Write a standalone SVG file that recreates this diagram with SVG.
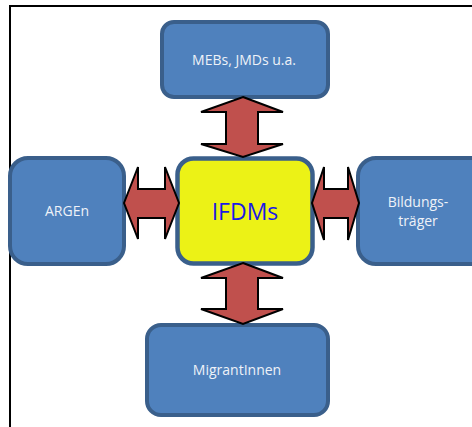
<svg xmlns="http://www.w3.org/2000/svg" width="472" height="427" viewBox="0 0 472 427">
<style>
.box{fill:#4f81bd;stroke:#3a5f8b;stroke-width:4}
.core{fill:#ecf216;stroke:#3a5f8b;stroke-width:4.5}
.lbl{font-family:"Open Sans","Liberation Sans",sans-serif;font-size:14px;fill:#eef2f8;text-anchor:middle}
.big{font-family:"Open Sans","Liberation Sans",sans-serif;font-size:23px;fill:#1a1ae6;text-anchor:middle}
.arr{fill:#c0504d;stroke:#000;stroke-width:2;stroke-linejoin:miter}
</style>
<rect width="472" height="427" fill="#fff"/>
<path d="M10,427 V6 H472" fill="none" stroke="#000" stroke-width="2"/>
<g id="node-mebs">
<rect class="box" x="162" y="22" width="166" height="75" rx="12"/>
<text class="lbl" x="244" y="65">MEBs, JMDs u.a.</text>
</g>
<g id="node-argen">
<rect class="box" x="10" y="158" width="114" height="106" rx="18"/>
<text class="lbl" x="67" y="216">ARGEn</text>
</g>
<g id="node-bildung">
<rect class="box" x="358" y="158" width="130" height="106" rx="18"/>
<text class="lbl" x="418" y="207">Bildungs-</text>
<text class="lbl" x="418" y="226">träger</text>
</g>
<g id="node-migrant">
<rect class="box" x="147" y="325" width="181" height="90" rx="14"/>
<text class="lbl" x="237" y="375">MigrantInnen</text>
</g>
<g id="node-ifdms">
<rect class="core" x="177.5" y="158.5" width="135" height="105" rx="16"/>
<text class="big" x="245" y="220">IFDMs</text>
</g>
<g id="connectors">
<polygon class="arr" points="243,97 283,112 258,112 258,144 283,144 243,157 201,144 226,144 226,112 201,112"/>
<polygon class="arr" points="243,263 283,278 258,278 258,309 283,309 243,324 201,309 226,309 226,278 201,278"/>
<polygon class="arr" points="124,203 138,167 138,189 165,189 165,167 179,203 165,239 165,218 138,218 138,239"/>
<polygon class="arr" points="312,203 324,167 324,189 348,189 348,167 359,203 348,240 348,218 324,218 324,240"/>
</g>
</svg>
